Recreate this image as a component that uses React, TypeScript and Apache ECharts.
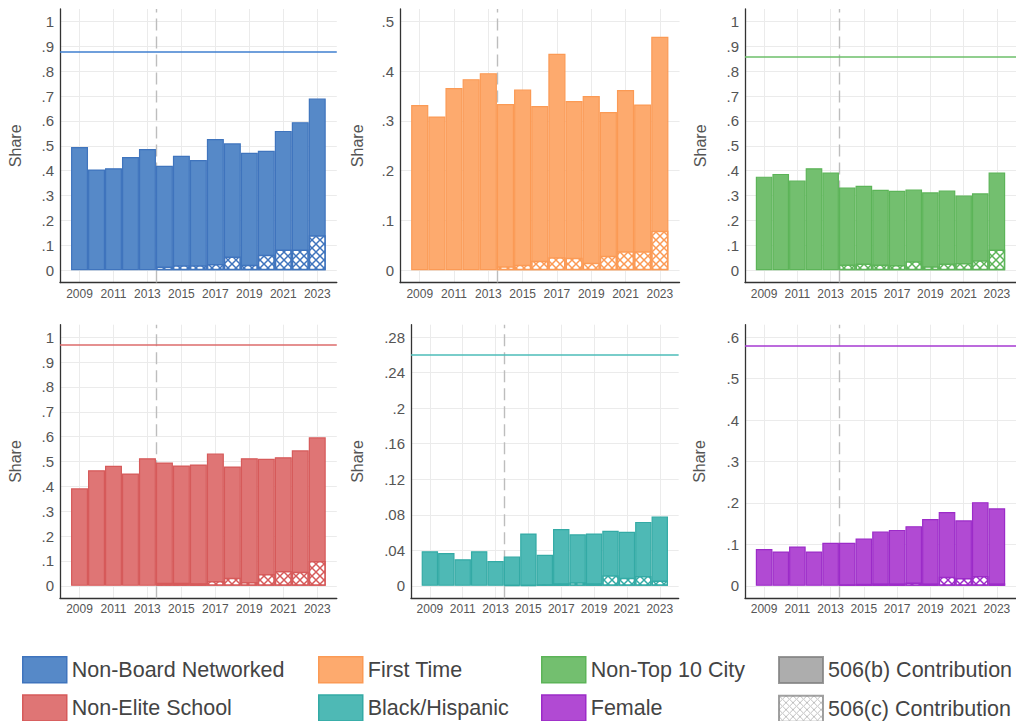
import React, { useEffect, useRef } from 'react';
import * as echarts from 'echarts';

// ---------- data ----------
const years = [2009, 2010, 2011, 2012, 2013, 2014, 2015, 2016, 2017, 2018, 2019, 2020, 2021, 2022, 2023];
const hatchYears = [2014, 2015, 2016, 2017, 2018, 2019, 2020, 2021, 2022, 2023];
const xTickLabels = [2009, 2011, 2013, 2015, 2017, 2019, 2021, 2023];
const policyYear = 2013.5;

const nonBoardTotal = [0.495, 0.405, 0.41, 0.455, 0.487, 0.42, 0.46, 0.443, 0.527, 0.51, 0.472, 0.48, 0.56, 0.595, 0.69];
const nonBoard506c = [0.015, 0.02, 0.02, 0.025, 0.055, 0.022, 0.062, 0.083, 0.083, 0.14];

const firstTimeTotal = [0.332, 0.309, 0.366, 0.384, 0.396, 0.334, 0.363, 0.33, 0.435, 0.34, 0.35, 0.318, 0.362, 0.333, 0.469];
const firstTime506c = [0.008, 0.011, 0.019, 0.026, 0.025, 0.015, 0.029, 0.038, 0.038, 0.079];

const nonTop10Total = [0.376, 0.387, 0.36, 0.41, 0.393, 0.332, 0.339, 0.323, 0.319, 0.324, 0.313, 0.32, 0.3, 0.309, 0.393];
const nonTop10506c = [0.023, 0.027, 0.023, 0.021, 0.036, 0.016, 0.027, 0.029, 0.04, 0.083];

const nonEliteTotal = [0.392, 0.465, 0.483, 0.452, 0.513, 0.496, 0.484, 0.488, 0.532, 0.48, 0.513, 0.511, 0.517, 0.545, 0.597];
const nonElite506c = [0.013, 0.013, 0.011, 0.02, 0.033, 0.016, 0.048, 0.06, 0.057, 0.1];

const blackHispTotal = [0.039, 0.037, 0.03, 0.039, 0.028, 0.033, 0.059, 0.035, 0.064, 0.058, 0.059, 0.062, 0.061, 0.072, 0.078];
const blackHisp506c = [0.001, 0.001, 0.002, 0.003, 0.004, 0.003, 0.012, 0.009, 0.011, 0.006];

const femaleTotal = [0.089, 0.083, 0.095, 0.083, 0.104, 0.104, 0.114, 0.131, 0.135, 0.144, 0.161, 0.178, 0.158, 0.202, 0.187];
const female506c = [0.004, 0.005, 0.006, 0.006, 0.008, 0.006, 0.022, 0.019, 0.024, 0.006];

// benchmark (horizontal line) per panel
const refLines = [0.88, null, 0.86, 0.973, 0.261, 0.585];

const yTicksUnit = [0, 0.1, 0.2, 0.3, 0.4, 0.5, 0.6, 0.7, 0.8, 0.9, 1];
const yTicksHalf = [0, 0.1, 0.2, 0.3, 0.4, 0.5];
const yTicksSmall = [0, 0.04, 0.08, 0.12, 0.16, 0.2, 0.24, 0.28];
const yTicksSix = [0, 0.1, 0.2, 0.3, 0.4, 0.5, 0.6];

const panelNames = ['Non-Board Networked', 'First Time', 'Non-Top 10 City', 'Non-Elite School', 'Black/Hispanic', 'Female'];
const panelTotals = [nonBoardTotal, firstTimeTotal, nonTop10Total, nonEliteTotal, blackHispTotal, femaleTotal];
const panel506c = [nonBoard506c, firstTime506c, nonTop10506c, nonElite506c, blackHisp506c, female506c];
const panelTicks = [yTicksUnit, yTicksHalf, yTicksUnit, yTicksUnit, yTicksSmall, yTicksSix];

// ---------- styles / layout ----------
const fills = ['#5689c8', '#fdaa6e', '#73bf6f', '#df7575', '#4eb9b5', '#b14ad3'];
const borders = ['#3f74bd', '#fb9a55', '#5cb458', '#d65a5a', '#33aaa5', '#9c2bc8'];
const lineColors = ['#3f7fcf', '#fdaa6e', '#6dbf6a', '#dc6b6b', '#4dbdb8', '#a63ad2'];

const panelLeft = [60, 400, 745, 60, 411, 745];
const panelTop = [9, 9, 9, 324.7, 324.7, 324.7];
const panelPxPerYear = [16.98, 17.15, 16.98, 16.98, 16.42, 16.98];
const panelNameGap = [37, 35, 37, 37, 46, 38];
const panelHeight = 273.6;
const xMin = 2007.85;
const xMax = 2024.15;

const fontFamily = '"Liberation Sans", Arial, Helvetica, sans-serif';

const fmtY = (v: number) => {
  if (v === 0) return '0';
  const s = String(Number(v.toFixed(3)));
  return s.replace(/^0\./, '.');
};

function makeHatch(color: string, size = 8, lw = 1.5) {
  const c = document.createElement('canvas');
  c.width = size;
  c.height = size;
  const ctx = c.getContext('2d')!;
  ctx.fillStyle = '#ffffff';
  ctx.fillRect(0, 0, size, size);
  ctx.strokeStyle = color;
  ctx.lineWidth = lw;
  ctx.beginPath();
  ctx.moveTo(-1, -1);
  ctx.lineTo(size + 1, size + 1);
  ctx.moveTo(size + 1, -1);
  ctx.lineTo(-1, size + 1);
  ctx.stroke();
  return c;
}

export default function App() {
  const ref = useRef<HTMLDivElement>(null);

  useEffect(() => {
    if (!ref.current) return;
    const chart = echarts.init(ref.current, undefined, { renderer: 'svg' });

    const grids: any[] = [];
    const xAxes: any[] = [];
    const yAxes: any[] = [];
    const series: any[] = [];

    panelNames.forEach((name, i) => {
      const ticks = panelTicks[i];
      const top = ticks[ticks.length - 1];
      grids.push({
        left: panelLeft[i],
        top: panelTop[i],
        width: (xMax - xMin) * panelPxPerYear[i],
        height: panelHeight,
        containLabel: false,
      });
      xAxes.push({
        gridIndex: i,
        type: 'value',
        min: xMin,
        max: xMax,
        axisLine: { show: true, onZero: false, lineStyle: { color: '#333', width: 1.3 } },
        axisTick: { show: false, customValues: xTickLabels },
        axisLabel: {
          customValues: xTickLabels,
          fontSize: 12,
          color: '#555',
          margin: 5,
          fontFamily,
          formatter: (v: number) => String(v),
        },
        splitLine: { show: true, lineStyle: { color: '#ebebeb', width: 1 } },
      });
      yAxes.push({
        gridIndex: i,
        type: 'value',
        min: -0.05 * top,
        max: 1.05 * top,
        axisLine: { show: true, onZero: false, lineStyle: { color: '#333', width: 1.3 } },
        axisTick: { show: false, customValues: ticks },
        axisLabel: {
          customValues: ticks,
          fontSize: 15,
          color: '#555',
          margin: 6,
          fontFamily,
          formatter: fmtY,
        },
        splitLine: { show: true, lineStyle: { color: '#ebebeb', width: 1 } },
        name: 'Share',
        nameLocation: 'middle',
        nameRotate: 90,
        nameGap: panelNameGap[i],
        nameMoveOverlap: false,
        nameTextStyle: { fontSize: 16, color: '#555', fontFamily },
      });

      const markData: any[] = [
        {
          xAxis: policyYear,
          lineStyle: { color: '#bdbdbd', width: 1.4, type: [12, 6] },
        },
      ];
      if (refLines[i] != null) {
        markData.push({
          yAxis: refLines[i],
          lineStyle: { color: lineColors[i], width: 1.6, type: 'solid' },
        });
      }

      series.push({
        name,
        type: 'bar',
        xAxisIndex: i,
        yAxisIndex: i,
        barWidth: '100%',
        barGap: '-100%',
        data: years.map((y, k) => [y, panelTotals[i][k]]),
        itemStyle: { color: fills[i], borderColor: borders[i], borderWidth: 1.2 },
        markLine: {
          silent: true,
          symbol: 'none',
          z: 1,
          label: { show: false },
          emphasis: { disabled: true },
          data: markData,
        },
      });
      series.push({
        name: name + ' 506(c)',
        type: 'bar',
        xAxisIndex: i,
        yAxisIndex: i,
        barWidth: '100%',
        barGap: '-100%',
        data: hatchYears.map((y, k) => [y, panel506c[i][k]]),
        itemStyle: {
          color: { image: makeHatch(borders[i]), repeat: 'repeat' },
          borderColor: borders[i],
          borderWidth: 1.5,
        },
      });
    });

    series.push({
      name: '506(b) Contribution',
      type: 'scatter',
      xAxisIndex: 0,
      yAxisIndex: 0,
      data: [],
      itemStyle: { color: '#999999', borderColor: '#7f7f7f', borderWidth: 1.5 },
    });
    series.push({
      name: '506(c) Contribution',
      type: 'scatter',
      xAxisIndex: 0,
      yAxisIndex: 0,
      data: [],
      itemStyle: {
        color: { image: makeHatch('#b0b0b0', 7, 1), repeat: 'repeat' },
        borderColor: '#8a8a8a',
        borderWidth: 1.5,
      },
    });

    const legendBase = {
      orient: 'vertical',
      top: 656,
      height: 120,
      padding: 0,
      itemWidth: 44,
      itemHeight: 26,
      itemGap: 10.7,
      icon: 'rect',
      selectedMode: false,
      textStyle: { fontSize: 21.5, color: '#444', fontFamily, lineHeight: 26 },
    };
    const legendColumns = [
      { left: 22, items: [0, 3] },
      { left: 318, items: [1, 4] },
      { left: 541, items: [2, 5] },
    ];
    const legends: any[] = legendColumns.map((col) => ({
      ...legendBase,
      left: col.left,
      data: col.items.map((k) => ({
        name: panelNames[k],
        itemStyle: { color: fills[k], borderColor: borders[k], borderWidth: 1.5 },
      })),
    }));
    legends.push({
      ...legendBase,
      left: 778,
      data: ['506(b) Contribution', '506(c) Contribution'],
    });

    chart.setOption({
      animation: false,
      backgroundColor: '#ffffff',
      textStyle: { fontFamily },
      grid: grids,
      xAxis: xAxes,
      yAxis: yAxes,
      legend: legends,
      series,
    });

    return () => {
      chart.dispose();
    };
  }, []);

  return (
    <div
      ref={ref}
      style={{ position: 'absolute', left: 0, top: 0, width: 1016, height: 721, background: '#fff' }}
    />
  );
}
